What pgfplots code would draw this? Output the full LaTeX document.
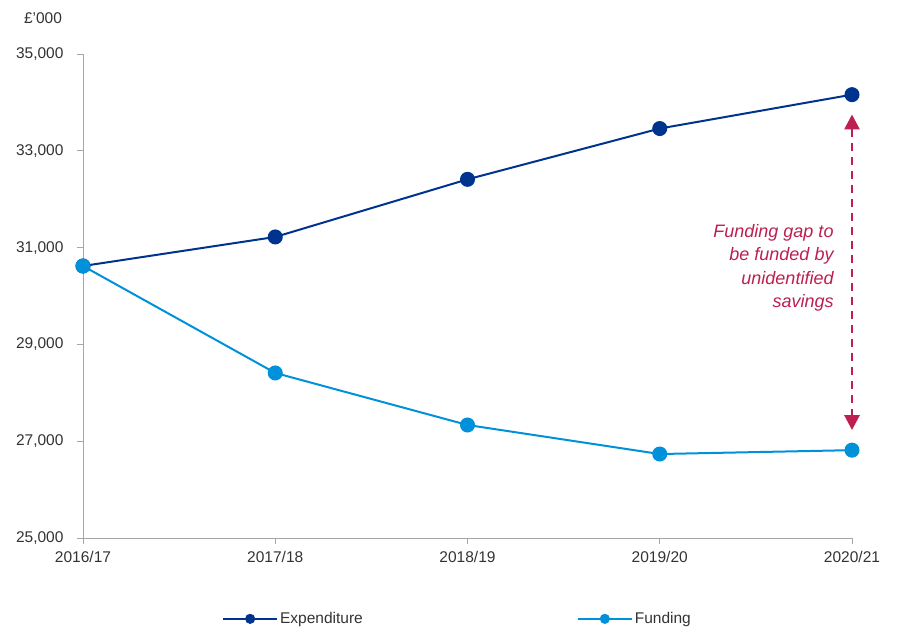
\documentclass[border=0pt]{standalone}
\usepackage{pgfplots}
\pgfplotsset{compat=1.18}
\usepackage{fontspec}
\setmainfont{Liberation Sans}
\usetikzlibrary{arrows.meta}
\definecolor{expblue}{HTML}{00338D}
\definecolor{fundblue}{HTML}{0091DA}
\definecolor{gapred}{HTML}{BC1F50}
\definecolor{axisgray}{HTML}{A6A6A6}
\definecolor{labelgray}{HTML}{333333}

\pgfplotstableread{
x  exp    fund
0  30620  30620
1  31220  28410
2  32410  27335
3  33460  26735
4  34160  26815
}\gapdata

\begin{document}
\begin{tikzpicture}[font=\fontsize{15.5bp}{18bp}\selectfont]
\begin{axis}[
  scale only axis,
  width=769bp, height=484bp,
  xmin=0, xmax=4,
  ymin=25000, ymax=35000,
  axis lines*=left,
  axis line style={axisgray, line width=0.8bp},
  tick style={axisgray, line width=0.8bp},
  tick align=outside,
  major tick length=6bp,
  xtick=data,
  xticklabels={2016/17,2017/18,2018/19,2019/20,2020/21},
  ytick={25000,27000,...,35000},
  scaled y ticks=false,
  ticklabel style={text=labelgray},
  xticklabel style={yshift=-4bp},
  yticklabel style={xshift=-10bp, /pgf/number format/fixed,
    /pgf/number format/1000 sep={,}, /pgf/number format/assume math mode=true},
  clip=false,
  legend columns=2,
  legend style={draw=none, fill=none, at={(0.487,-0.167)}, anchor=center,
    /tikz/every even column/.append style={column sep=212bp},
    text=labelgray, font=\fontsize{15.5bp}{18bp}\selectfont},
  legend cell align=left,
  legend image code/.code={
    \draw[#1, mark repeat=2, mark phase=2, mark size=4bp]
      plot coordinates {(-3bp,0bp) (24bp,0bp) (51bp,0bp)};
  },
]
\addplot[expblue, line width=2bp, mark=*, mark size=6.5bp] table[x=x, y=exp] {\gapdata};
\addlegendentry{Expenditure}
\addplot[fundblue, line width=2bp, mark=*, mark size=6.5bp] table[x=x, y=fund] {\gapdata};
\addlegendentry{Funding}

\draw[gapred, line width=2.8bp, dash pattern=on 8bp off 6bp,
  {Triangle[length=15bp,width=15bp]}-{Triangle[length=15bp,width=15bp]}]
  (axis cs:4,33750) -- (axis cs:4,27230);
\node[gapred, align=right, anchor=east, inner sep=0pt,
  font=\fontsize{18bp}{23.5bp}\selectfont\itshape]
  at (axis cs:3.905,30580) {Funding gap to\\be funded by\\unidentified\\savings};

\node[text=labelgray, anchor=center] at (axis cs:-0.208,35744) {£'000};
\end{axis}
\path (current axis.south west) ++(-83bp,-91bp) rectangle ++(901bp,629bp);
\end{tikzpicture}
\end{document}
